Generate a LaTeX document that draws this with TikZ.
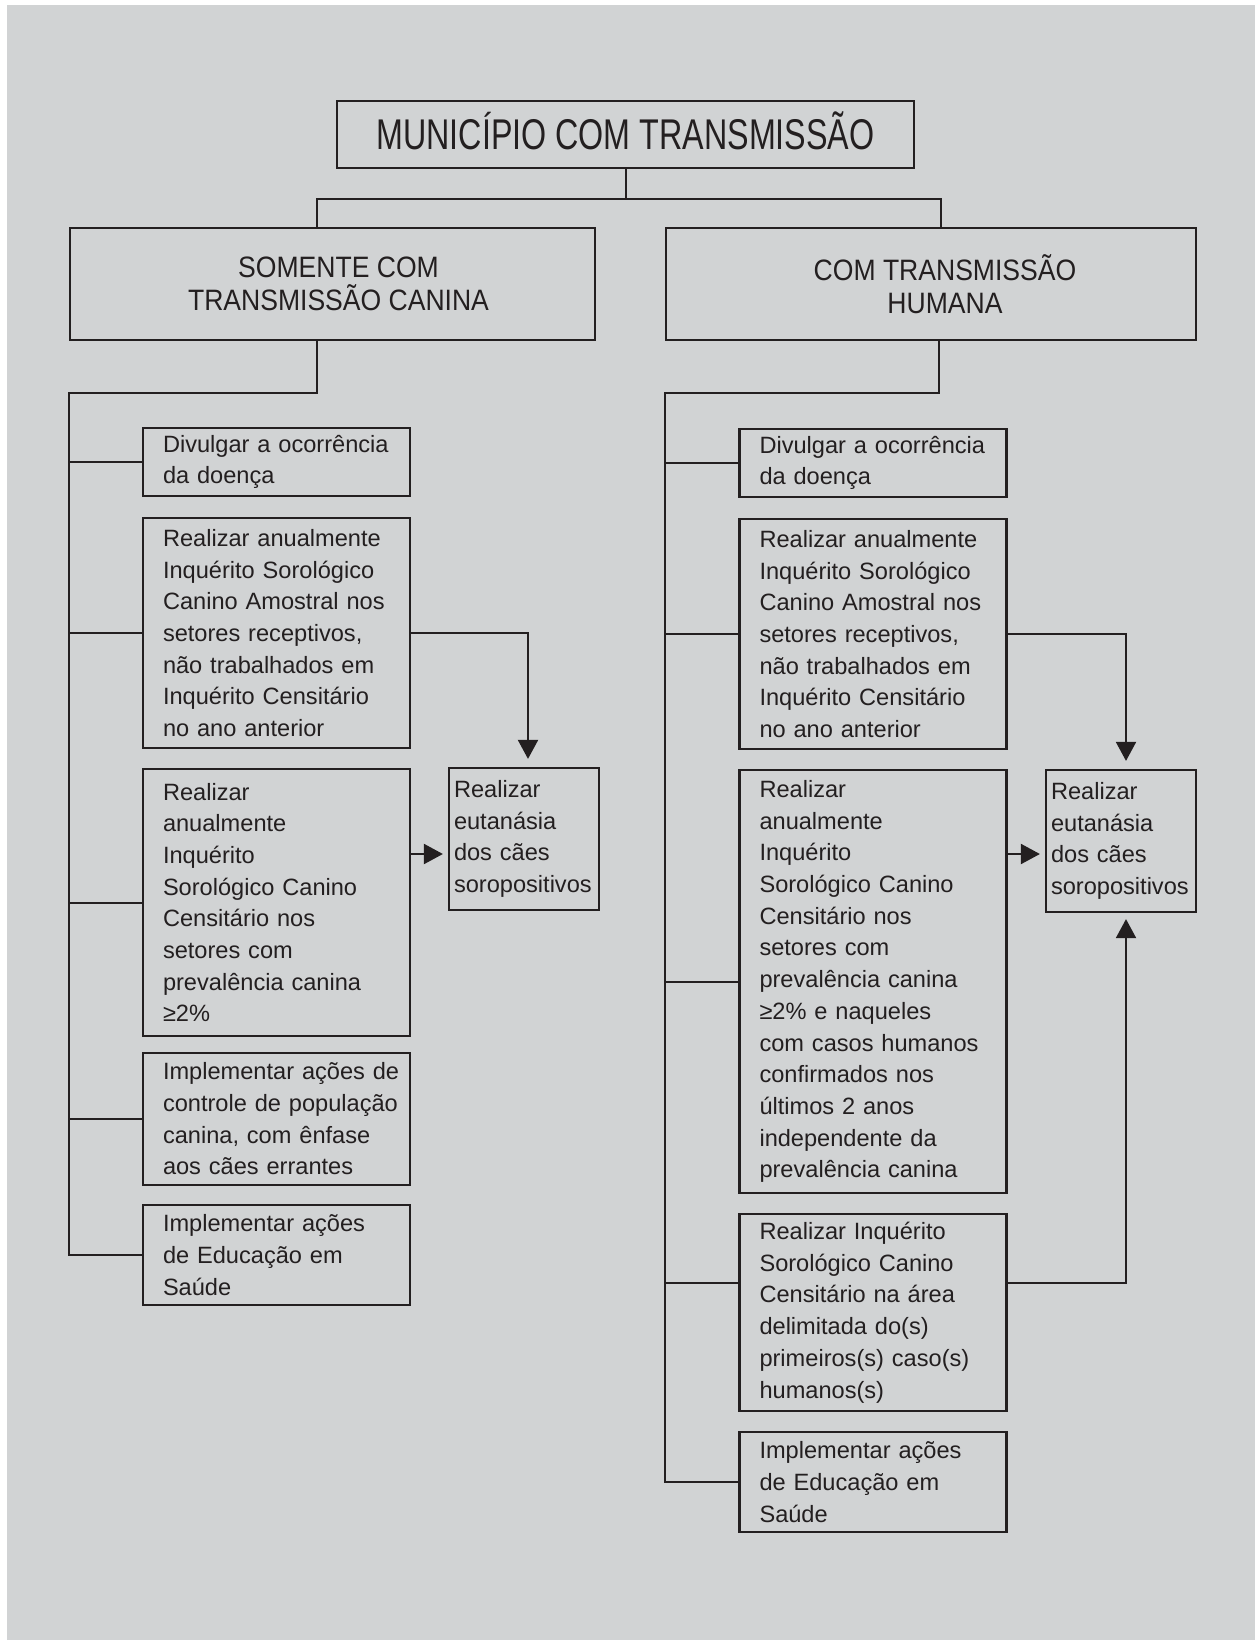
\documentclass[tikz,border=0pt]{standalone}
\usepackage{fontspec}
\setmainfont{Liberation Sans}
\newfontfamily\titlefont[FakeStretch=0.75]{Liberation Sans}
\newfontfamily\headfont[FakeStretch=0.9]{Liberation Sans}
\usetikzlibrary{
	arrows.meta,
	calc
}
\definecolor{pageGray}{HTML}{D1D3D4}
\definecolor{inkBlack}{HTML}{231F20}
\tikzset{
	Head-Box/.style={rectangle,draw=inkBlack,line width=2.2pt,text=inkBlack,align=center,inner sep=0pt},
	Task-Box/.style={rectangle,draw=inkBlack,line width=2.2pt,text=inkBlack,align=left,
		inner xsep=6pt,inner ysep=0pt,minimum width=267pt,text width=255pt,
		execute at begin node={\leftskip=14pt\hyphenpenalty=10000},
		font=\fontsize{23.6}{31.7}\selectfont},
	Kill-Box/.style={Task-Box,inner xsep=4pt,minimum width=150pt,text width=142pt,minimum height=142pt,
		execute at begin node={\leftskip=1pt}},
	Tree-Line/.style={draw=inkBlack,line width=2pt},
	Task-Arrow/.style={-{Triangle[length=19pt,width=20pt]},draw=inkBlack,line width=2pt}
}

\begin{document}
\begin{tikzpicture}[x=1pt,y=-1pt]
	\useasboundingbox (0,0) rectangle (1255,1640);
	\fill[pageGray] (7,5) rectangle (1255,1640);
	% top of the tree
	\node[Head-Box,minimum width=577pt,minimum height=67pt,text height=31pt,text depth=0pt,
		font=\titlefont\fontsize{43}{48}\selectfont]
		(top) at (625.5,134.5) {MUNICÍPIO COM TRANSMISSÃO};
	\node[Head-Box,minimum width=525pt,minimum height=112pt,font=\headfont\fontsize{29.5}{32.5}\selectfont]
		(canina) at (332.5,284) {\hspace*{12pt}SOMENTE COM\\\hspace*{12pt}TRANSMISSÃO CANINA};
	\node[Head-Box,minimum width=530pt,minimum height=112pt,font=\headfont\fontsize{29.5}{32.5}\selectfont]
		(humana) at (931,284) {\hspace*{28pt}COM TRANSMISSÃO\\\hspace*{28pt}HUMANA};
	% left column
	\node[Task-Box,minimum height=68pt] (L1) at (276.5,462) {Divulgar a ocorrência\\da doença};
	\node[Task-Box,minimum height=230pt] (L2) at (276.5,633) {Realizar anualmente\\Inquérito Sorológico\\Canino Amostral nos\\setores receptivos,\\não trabalhados em\\Inquérito Censitário\\no ano anterior};
	\node[Task-Box,minimum height=267pt] (L3) at (276.5,902.5) {Realizar\\anualmente\\Inquérito\\Sorológico Canino\\Censitário nos\\setores com\\prevalência canina\\≥2\%};
	\node[Task-Box,minimum height=132pt] (L4) at (276.5,1119) {Implementar ações de\\controle de população\\canina, com ênfase\\aos cães errantes};
	\node[Task-Box,minimum height=100pt] (L5) at (276.5,1255) {Implementar ações\\de Educação em\\Saúde};
	\node[Kill-Box] (eutL) at (524,839) {Realizar\\eutanásia\\dos cães\\soropositivos};
	% right column
	\node[Task-Box,minimum height=68pt] (R1) at (873,463) {Divulgar a ocorrência\\da doença};
	\node[Task-Box,minimum height=230pt] (R2) at (873,634) {Realizar anualmente\\Inquérito Sorológico\\Canino Amostral nos\\setores receptivos,\\não trabalhados em\\Inquérito Censitário\\no ano anterior};
	\node[Task-Box,minimum height=423pt] (R3) at (873,981.5) {Realizar\\anualmente\\Inquérito\\Sorológico Canino\\Censitário nos\\setores com\\prevalência canina\\≥2\% e naqueles\\com casos humanos\\confirmados nos\\últimos 2 anos\\independente da\\prevalência canina};
	\node[Task-Box,minimum height=197pt] (R4) at (873,1312.5) {Realizar Inquérito\\Sorológico Canino\\Censitário na área\\delimitada do(s)\\primeiros(s) caso(s)\\humanos(s)};
	\node[Task-Box,minimum height=100pt] (R5) at (873,1482) {Implementar ações\\de Educação em\\Saúde};
	\node[Kill-Box] (eutR) at (1121,841) {Realizar\\eutanásia\\dos cães\\soropositivos};
	% branches
	\draw[Tree-Line] (top.south) -- ++(0,30) coordinate (bus);
	\draw[Tree-Line] ([xshift=-16pt]canina.north) |- (bus) -| ([xshift=10pt]humana.north);
	\draw[Tree-Line] ([xshift=-16pt]canina.south) -- ++(0,52) -| (L5.west -| canina.west) -- (L5.west);
	\draw[Tree-Line] ([xshift=8pt]humana.south) -- ++(0,52) -| (R5.west -| humana.west) -- (R5.west);
	\foreach \t in {L1,L2,L3,L4} {
		\draw[Tree-Line] (\t.west -| canina.west) -- (\t.west);
	}
	\foreach \t in {R1,R2,R3} {
		\draw[Tree-Line] (\t.west -| humana.west) -- (\t.west);
	}
	\coordinate (R4out) at ([yshift=30pt]R4.west);
	\draw[Tree-Line] (R4out -| humana.west) -- (R4out);
	% arrows to the euthanasia boxes
	\draw[Task-Arrow,shorten >=8pt] (L2.east) -| ([xshift=4pt]eutL.north);
	\draw[Task-Arrow,shorten >=8pt] (R2.east) -| ([xshift=5pt]eutR.north);
	\coordinate (inL) at ([yshift=-15pt]eutL.west);
	\coordinate (inR) at ([yshift=-13pt]eutR.west);
	\draw[Task-Arrow,shorten >=5pt] (L3.east |- inL) -- (inL);
	\draw[Task-Arrow,shorten >=5pt] (R3.east |- inR) -- (inR);
	\draw[Task-Arrow,shorten >=6pt] ([yshift=30pt]R4.east) -| ([xshift=5pt]eutR.south);
\end{tikzpicture}
\end{document}
